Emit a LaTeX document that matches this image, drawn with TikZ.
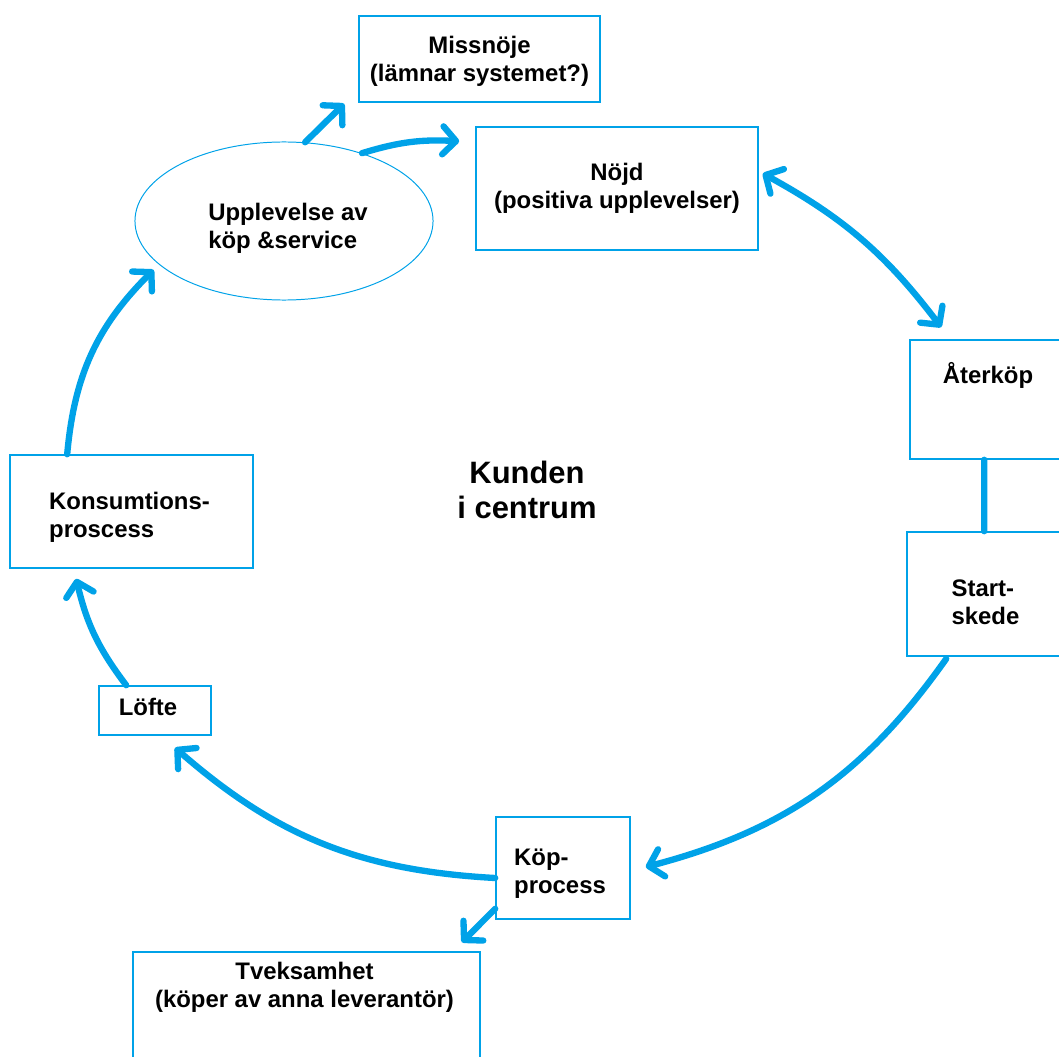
\documentclass[tikz,border=0pt]{standalone}
\usepackage{fontspec}
\setmainfont{Liberation Sans}
\usetikzlibrary{shapes.geometric,arrows.meta,calc}
\definecolor{paintblue}{RGB}{0,162,232}

\tikzset{
    box/.style={draw=paintblue, line width=1.1pt, rectangle, inner sep=0pt,
        font=\bfseries\fontsize{17pt}{20pt}\selectfont, align=center},
    txt/.style={inner sep=0pt, font=\bfseries\fontsize{17pt}{20pt}\selectfont, align=left},
    flow/.style={draw=paintblue, line width=4.5pt, line cap=round,
        >={Straight Barb[length=3.3mm,width=7mm,round]}},
}

\begin{document}
\begin{tikzpicture}[x=0.025cm, y=-0.025cm]
    \useasboundingbox (0,0) rectangle (1059,1057);

    % boxes round the circle
    \node[box, minimum width=6.025cm, minimum height=2.15cm] (miss) at (479.5,59) {};
    \node[box, minimum width=7.05cm, minimum height=3.075cm] (nojd) at (617,188.5) {Nöjd\\(positiva upplevelser)};
    \node[box, ellipse, line width=0.7pt, minimum width=7.45cm, minimum height=3.95cm] (ell) at (284,221) {};
    \node[box, minimum width=4cm, minimum height=2.975cm] (ater) at (990,399.5) {};
    \node[box, minimum width=4.075cm, minimum height=3.1cm] (start) at (988.5,594) {};
    \node[box, minimum width=3.35cm, minimum height=2.55cm] (kop) at (563,868) {};
    \node[box, minimum width=8.675cm, minimum height=2.95cm] (tvek) at (306.5,1011) {};
    \node[box, minimum width=2.8cm, minimum height=1.225cm] (lofte) at (155,710.5) {};
    \node[box, minimum width=6.075cm, minimum height=2.825cm] (kons) at (131.5,511.5) {};

    \node[txt, align=center] (miss-t) at ($(miss.center)+(0,2)$) {Missnöje\\(lämnar systemet?)};
    \node[txt] (ell-t) at ($(ell.center)+(4,7)$) {Upplevelse av\\köp \&service};
    \node[txt, anchor=base] (ater-t) at ($(ater.north)+(-2,44)$) {Återköp};
    \node[txt] (start-t) at ($(start.center)+(-3,8)$) {Start-\\skede};
    \node[txt] (kop-t) at ($(kop.center)+(-3,6)$) {Köp-\\process};
    \node[txt, align=center] (tvek-t) at ($(tvek.north)+(-2,36)$) {Tveksamhet\\(köper av anna leverantör)};
    \node[txt] (lofte-t) at ($(lofte.center)+(-7,-4)$) {Löfte};
    \node[txt] (kons-t) at ($(kons.center)+(-2,6)$) {Konsumtions-\\proscess};

    \node[inner sep=0pt, font=\bfseries\fontsize{22pt}{25pt}\selectfont, align=center] (kunden) at (527,490) {Kunden\\i centrum};

    % arrows
    \draw[flow, ->] (ell.75) -- ($(miss.south west)+(-14,1)$);
    \draw[flow, ->] (ell.41) to[bend left=10] ($(nojd.north west)+(-16,15)$);
    \draw[flow, <->] ($(nojd.east)+(4,-15)$) to[bend left=12] ($(ater.north west)+(32,-12)$);
    \draw[flow] ($(ater.south west)+(75,0)$) -- ($(start.north west)+(78,0)$);
    \draw[flow, ->] ($(start.south west)+(40,2)$) to[bend left=20] ($(kop.east)+(15,-1)$);
    \draw[flow, ->] ($(kop.west)+(0,10)$) to[bend left=19] ($(lofte.south)+(20,12)$);
    \draw[flow, ->] ($(kop.south west)+(0,-11)$) -- ($(tvek.north east)+(-19,-9)$);
    \draw[flow, ->] ($(lofte.north west)+(28,0)$) to[bend left=12] ($(kons.south west)+(67,10)$);
    \draw[flow, ->] ($(kons.north west)+(58,0)$) to[bend left=20] ($(ell.200)+(-7,4)$);

\end{tikzpicture}
\end{document}
